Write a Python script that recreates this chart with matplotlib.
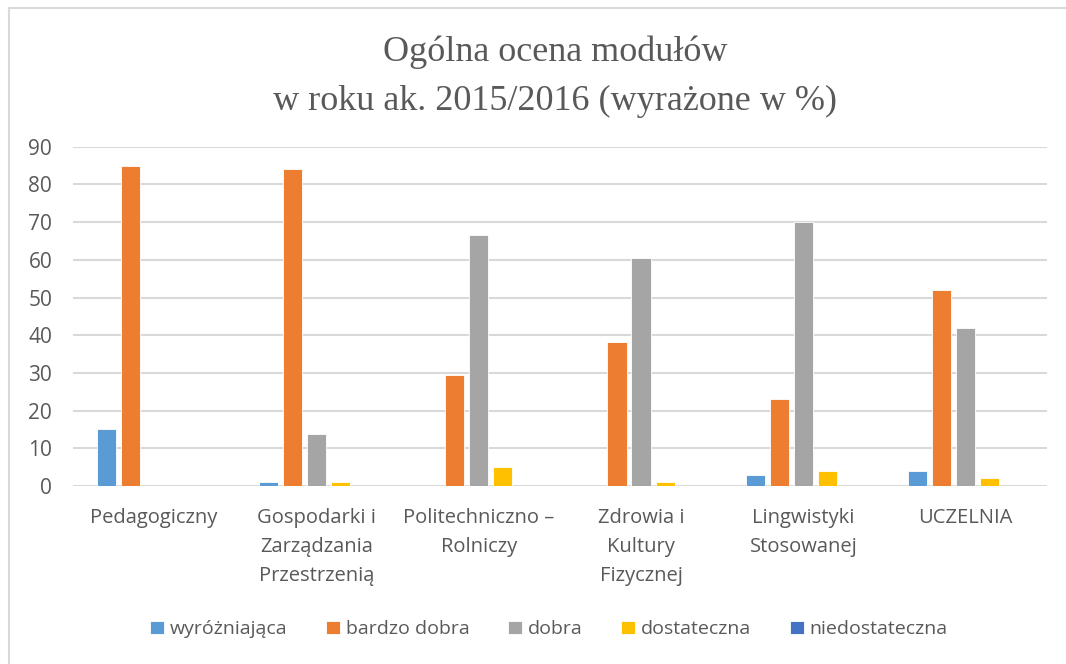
import numpy as np
import matplotlib
matplotlib.use("Agg")
import matplotlib.pyplot as plt
from matplotlib.lines import Line2D

categories = [
    "Pedagogiczny",
    "Gospodarki i\nZarządzania\nPrzestrzenią",
    "Politechniczno –\nRolniczy",
    "Zdrowia i\nKultury\nFizycznej",
    "Lingwistyki\nStosowanej",
    "UCZELNIA",
]
series_names = ["wyróżniająca", "bardzo dobra", "dobra", "dostateczna", "niedostateczna"]
wyrozniajaca = [15, 1, 0, 0, 2.8, 3.9]
bardzo_dobra = [85, 84, 29.4, 38.3, 23, 52]
dobra = [0, 13.8, 66.6, 60.5, 70, 41.9]
dostateczna = [0, 1, 5, 1.1, 3.9, 2.2]
niedostateczna = [0, 0, 0, 0, 0, 0]
yticks = [0, 10, 20, 30, 40, 50, 60, 70, 80, 90]

colors = ["#5b9bd5", "#ed7d31", "#a5a5a5", "#ffc000", "#4472c4"]
text_color = "#595959"

fig = plt.figure(figsize=(10.66, 6.64), dpi=100)
ax = fig.add_axes([0.0685, 0.268, 0.9135, 0.511])

x = np.arange(len(categories))
step = 0.148
width = 0.118
all_series = [wyrozniajaca, bardzo_dobra, dobra, dostateczna, niedostateczna]
for i, (vals, name, col) in enumerate(zip(all_series, series_names, colors)):
    ax.bar(x + (i - 2) * step, vals, width, color=col, label=name,
           edgecolor="white", linewidth=0.6, zorder=3)

ax.set_xlim(-0.5, len(categories) - 0.5)
ax.set_ylim(0, 90)
ax.set_yticks(yticks)
ax.set_xticks(x)
ax.set_xticklabels(categories, fontsize=14.5, color=text_color,
                   family="Open Sans", linespacing=1.6, va="top")
for lbl in ax.get_yticklabels():
    lbl.set_fontsize(15)
    lbl.set_color(text_color)
    lbl.set_family("Open Sans")
ax.tick_params(axis="both", length=0)
ax.tick_params(axis="x", pad=16)
ax.tick_params(axis="y", pad=15)
ax.grid(axis="y", color="#d9d9d9", linewidth=1.5, zorder=0)
for s in ax.spines.values():
    s.set_visible(False)

fig.text(0.521, 0.922, "Ogólna ocena modułów", ha="center", va="center",
         fontsize=26, family="Liberation Serif", color=text_color)
fig.text(0.521, 0.847, "w roku ak. 2015/2016 (wyrażone w %)", ha="center", va="center",
         fontsize=26, family="Liberation Serif", color=text_color)

leg = fig.legend(loc="center", bbox_to_anchor=(0.515, 0.052), ncol=5, frameon=False,
                 handlelength=0.7, handleheight=0.7, handletextpad=0.3,
                 columnspacing=2.0, prop={"family": "Open Sans", "size": 14})
for t in leg.get_texts():
    t.set_color(text_color)

# light frame around the chart area
fig.add_artist(Line2D([0.008, 0.008], [0.0, 0.988], color="#d9d9d9", linewidth=1.5))
fig.add_artist(Line2D([0.008, 1.0], [0.988, 0.988], color="#d9d9d9", linewidth=1.5))

fig.savefig("out.png", dpi=100)
